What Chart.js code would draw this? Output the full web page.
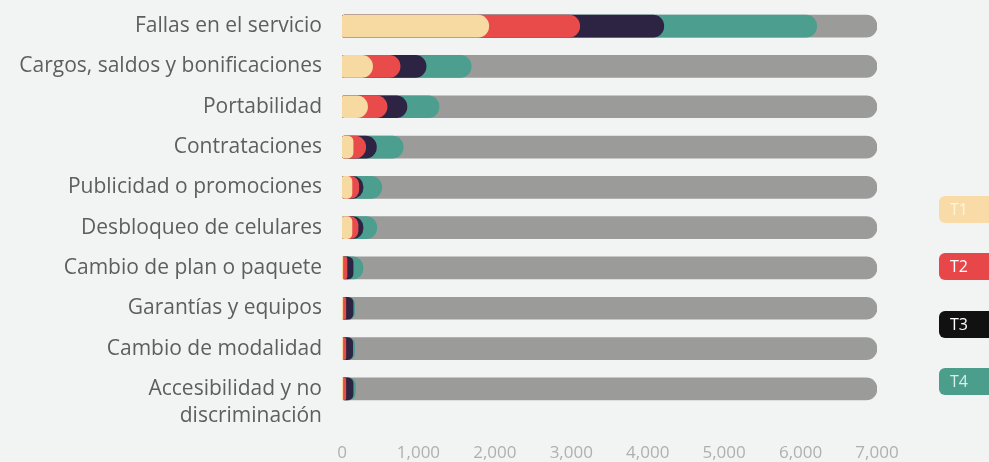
<!DOCTYPE html>
<html lang="es">
<head>
  <meta charset="UTF-8">
  <title>Inconformidades por trimestre</title>
  <script src="https://cdn.jsdelivr.net/npm/chart.js"></script>
  <style>
    html, body { margin: 0; padding: 0; background: #f2f3f3; }
    #wrap { position: relative; width: 989px; height: 462px; overflow: hidden; }
    .pill {
      position: absolute; left: 939px; width: 70px; height: 27px;
      border-radius: 6px; font: 16px "Open Sans", sans-serif;
      line-height: 27px; padding-left: 11px; box-sizing: border-box;
    }
  </style>
</head>
<body>
<div id="wrap">
  <canvas id="myChart" width="989" height="462"></canvas>
  <div id="legend"></div>
</div>

<script>
  // Datos del gráfico
  var categorias = [
    'Fallas en el servicio',
    'Cargos, saldos y bonificaciones',
    'Portabilidad',
    'Contrataciones',
    'Publicidad o promociones',
    'Desbloqueo de celulares',
    'Cambio de plan o paquete',
    'Garantías y equipos',
    'Cambio de modalidad',
    ['', 'Accesibilidad y no', 'discriminación']
  ];
  var t1 = [1920, 400, 335, 145, 130, 130, 10, 10, 10, 10];
  var t2 = [1190, 360, 255, 165, 90, 80, 55, 40, 40, 40];
  var t3 = [1100, 340, 260, 140, 55, 65, 80, 95, 90, 95];
  var t4 = [2000, 590, 420, 350, 245, 180, 130, 20, 25, 30];
  var tope = 7000; // barra gris de fondo

  var series = [
    { nombre: 'T1', datos: t1, color: '#f7d9a2', legendColor: '#f8dba6', texto: '#fff4de' },
    { nombre: 'T2', datos: t2, color: '#e94b4b', legendColor: '#e8474a', texto: '#ffffff' },
    { nombre: 'T3', datos: t3, color: '#2c2442', legendColor: '#111111', texto: '#ffffff' },
    { nombre: 'T4', datos: t4, color: '#4c9e8f', legendColor: '#4b9e8c', texto: '#d8efe9' }
  ];

  // Cada barra va de 0 al acumulado, la más corta se dibuja encima
  var acumulado = categorias.map(function() { return 0; });
  var radio = { topLeft: 3, bottomLeft: 3, topRight: 11, bottomRight: 11 };
  var datasets = series.map(function(s) {
    acumulado = acumulado.map(function(v, i) { return v + s.datos[i]; });
    return {
      label: s.nombre,
      data: acumulado.slice(),
      backgroundColor: s.color,
      borderRadius: radio,
      borderSkipped: false,
      grouped: false,
      barThickness: 22
    };
  });
  datasets.push({
    label: 'total',
    data: categorias.map(function() { return tope; }),
    backgroundColor: '#9b9c9a',
    borderRadius: radio,
    borderSkipped: false,
    grouped: false,
    barThickness: 22
  });

  var ctx = document.getElementById('myChart').getContext('2d');
  var myChart = new Chart(ctx, {
    type: 'bar',
    data: { labels: categorias, datasets: datasets },
    options: {
      indexAxis: 'y',
      responsive: false,
      animation: false,
      locale: 'en-US',
      layout: { padding: { top: 6, right: 112, bottom: 0, left: 0 } },
      plugins: { legend: { display: false }, tooltip: { enabled: false } },
      scales: {
        x: {
          min: 0,
          max: 7000,
          grid: { display: false, drawTicks: false },
          border: { display: false },
          ticks: {
            stepSize: 1000,
            padding: 34,
            color: '#b0b0b0',
            font: { family: 'Open Sans', size: 17 }
          },
          afterFit: function(scale) { scale.height = 53; }
        },
        y: {
          grid: { display: false, drawTicks: false },
          border: { display: false },
          ticks: {
            autoSkip: false,
            padding: 20,
            color: '#5e5e5e',
            font: { family: 'Open Sans', size: 21, lineHeight: 1.3 }
          },
          afterFit: function(scale) {
            scale.width = 342;
            scale.paddingTop = 0;
            scale.paddingBottom = 0;
          }
        }
      }
    }
  });

  // Leyenda en pastillas a la derecha
  var legend = document.getElementById('legend');
  var tops = [196, 253, 311, 368];
  series.forEach(function(s, i) {
    var d = document.createElement('div');
    d.className = 'pill';
    d.style.top = tops[i] + 'px';
    d.style.background = s.legendColor;
    d.style.color = s.texto;
    d.textContent = s.nombre;
    legend.appendChild(d);
  });
</script>
</body>
</html>
